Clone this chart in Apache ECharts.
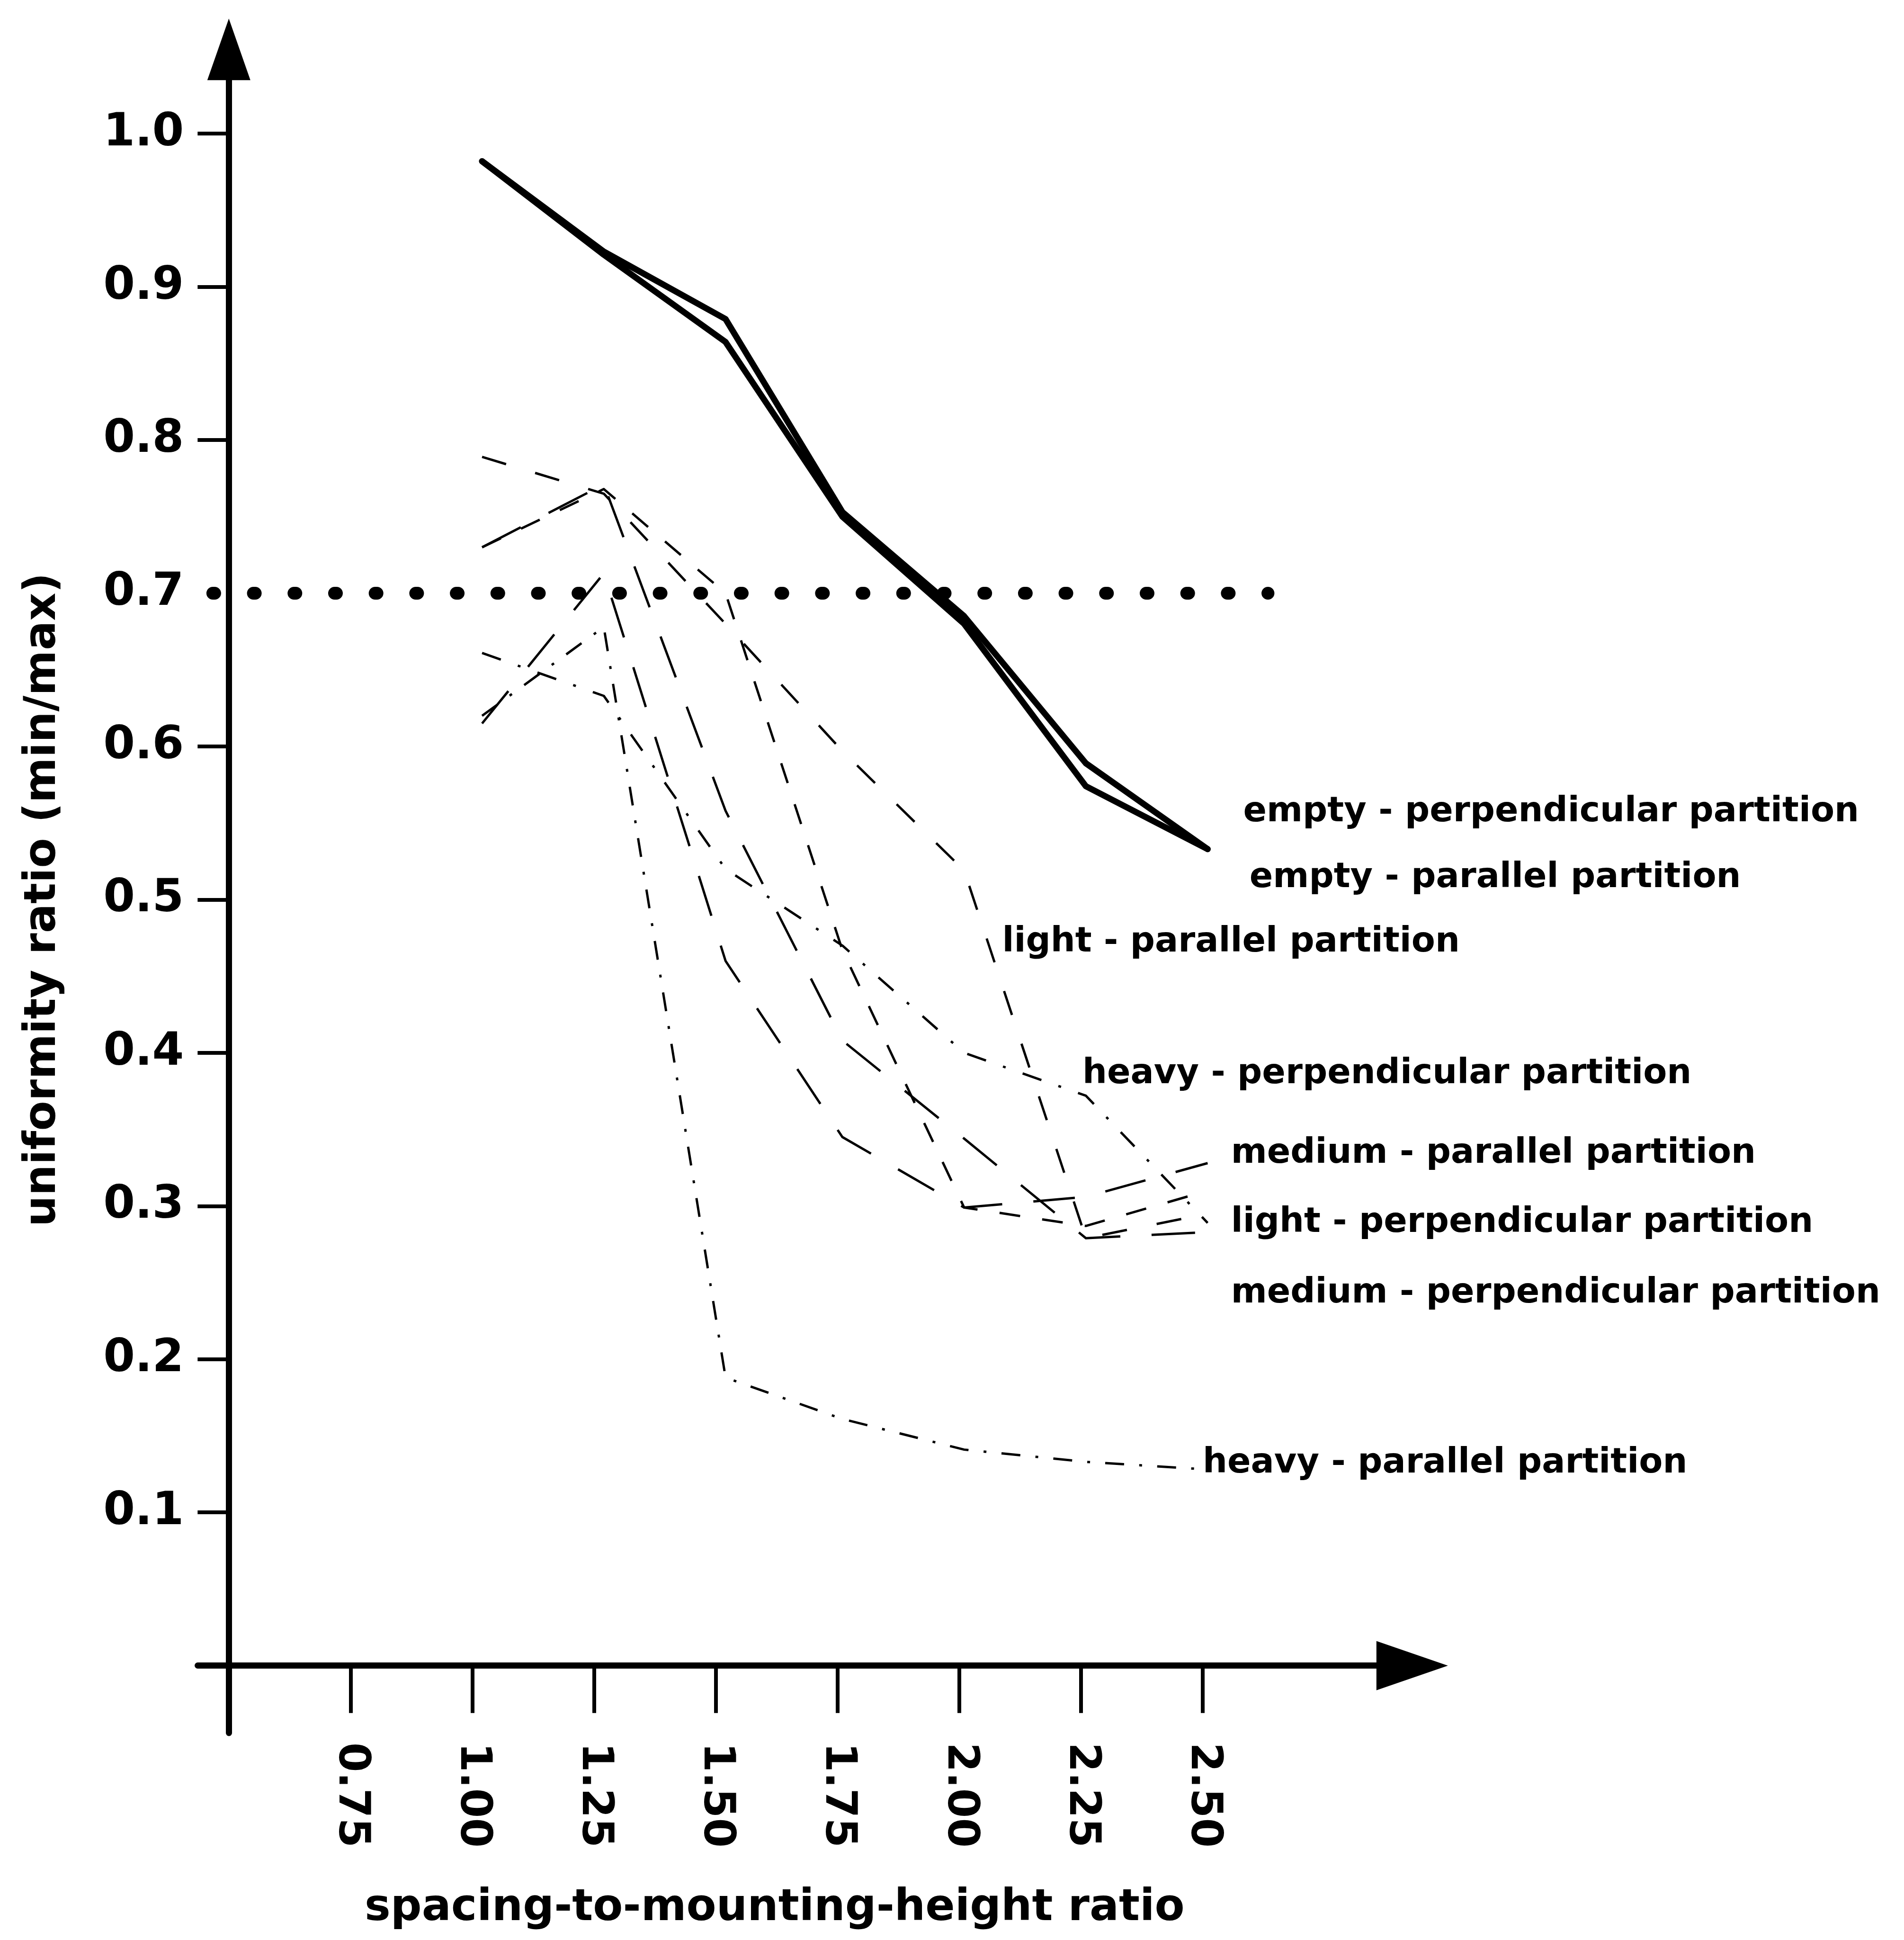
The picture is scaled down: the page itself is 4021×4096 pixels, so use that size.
<!DOCTYPE html>
<html>
<head>
<meta charset="utf-8">
<script src="https://cdn.jsdelivr.net/npm/echarts@6.0.0/dist/echarts.min.js"></script>
<style>
  html, body { margin: 0; padding: 0; background: #fff; }
  #chart { width: 4021px; height: 4096px; }
</style>
</head>
<body>
<div id="chart"></div>
<script>
// spacing-to-mounting-height ratio at the drawn vertices
const spacing = [1.02, 1.27, 1.52, 1.76, 2.01, 2.26, 2.51];

// uniformity ratio (min/max) per room condition
const emptyPerp  = [0.982, 0.923, 0.879, 0.753, 0.685, 0.589, 0.533];
const emptyPar   = [0.982, 0.921, 0.864, 0.750, 0.680, 0.574, 0.533];
const lightPar   = [0.789, 0.765, 0.680, 0.597, 0.519, 0.279, 0.295];
const lightPerp  = [0.730, 0.768, 0.700, 0.467, 0.299, 0.287, 0.310];
const mediumPar  = [0.615, 0.713, 0.460, 0.345, 0.299, 0.306, 0.328];
const mediumPerp = [0.730, 0.771, 0.558, 0.408, 0.344, 0.279, 0.283];
const heavyPerp  = [0.661, 0.633, 0.520, 0.470, 0.400, 0.372, 0.289];
const heavyPar   = [0.620, 0.678, 0.188, 0.161, 0.141, 0.133, 0.128];

const xTicks  = [0.75, 1.0, 1.25, 1.5, 1.75, 2.0, 2.25, 2.5];
const yTicks  = [0.1, 0.2, 0.3, 0.4, 0.5, 0.6, 0.8, 0.9, 1.0];
const yLabels = [0.1, 0.2, 0.3, 0.4, 0.5, 0.6, 0.7, 0.8, 0.9, 1.0];

// dotted 0.7 limit
const limitValue = 0.7;
const limitSpan = [0.467, 2.634];

// curve names written next to the curves
const noteNames = [
  'empty - perpendicular partition',
  'empty - parallel partition',
  'light - parallel partition',
  'heavy - perpendicular partition',
  'medium - parallel partition',
  'light - perpendicular partition',
  'medium - perpendicular partition',
  'heavy - parallel partition'
];
const noteX = [2.583, 2.596, 2.088, 2.253, 2.558, 2.558, 2.558, 2.50];
const noteY = [0.557, 0.514, 0.472, 0.386, 0.334, 0.289, 0.243, 0.132];

const font = 'DejaVu Sans';

function curve(name, values, width, dash, cap) {
  return {
    name: name,
    type: 'line',
    data: spacing.map((x, i) => [x, values[i]]),
    symbol: 'none',
    silent: true,
    lineStyle: { color: '#000', width: width, type: dash, cap: cap || 'butt', join: 'round' }
  };
}

const chart = echarts.init(document.getElementById('chart'));

const option = {
  animation: false,
  backgroundColor: '#fff',
  grid: {
    left: 417.5, top: 104.3, width: 2564.8, height: 3554.7,
    containLabel: false,
    outerBoundsMode: 'none'
  },
  xAxis: {
    type: 'value',
    min: 0.436,
    max: 2.93,
    splitLine: { show: false },
    axisLine: {
      show: true,
      onZero: true,
      lineStyle: { color: '#000', width: 13 },
      symbol: ['none', 'triangle'],
      symbolSize: [104, 151]
    },
    axisTick: {
      show: true,
      length: 100,
      customValues: xTicks,
      lineStyle: { color: '#000', width: 8 }
    },
    axisLabel: {
      show: true,
      customValues: xTicks,
      rotate: -90,
      margin: 20,
      formatter: v => v.toFixed(2),
      fontFamily: font, fontWeight: 'bold', fontSize: 90, color: '#000'
    },
    name: 'spacing-to-mounting-height ratio',
    nameLocation: 'middle',
    nameGap: 325,
    nameMoveOverlap: false,
    nameTextStyle: {
      fontFamily: font, fontWeight: 'bold', fontSize: 92, color: '#000',
      padding: [0, 128, 0, 0]
    }
  },
  yAxis: {
    type: 'value',
    min: -0.044,
    max: 1.055,
    offset: -65.8,
    splitLine: { show: false },
    axisLine: {
      show: true,
      onZero: false,
      lineStyle: { color: '#000', width: 13 },
      symbol: ['none', 'triangle'],
      symbolSize: [91, 130]
    },
    axisTick: {
      show: true,
      length: 66,
      customValues: yTicks,
      lineStyle: { color: '#000', width: 8 }
    },
    axisLabel: {
      show: true,
      customValues: yLabels,
      margin: 95,
      formatter: v => v.toFixed(1),
      fontFamily: font, fontWeight: 'bold', fontSize: 96, color: '#000'
    },
    name: 'uniformity ratio (min/max)',
    nameLocation: 'middle',
    nameGap: 345,
    nameMoveOverlap: false,
    nameTextStyle: {
      fontFamily: font, fontWeight: 'bold', fontSize: 92, color: '#000',
      padding: [0, 36, 0, 0]
    }
  },
  series: [
    curve('empty - perpendicular partition', emptyPerp, 13, 'solid', 'round'),
    curve('empty - parallel partition', emptyPar, 13, 'solid', 'round'),
    curve('light - parallel partition', lightPar, 5, [53, 64]),
    curve('light - perpendicular partition', lightPerp, 5, [44, 47]),
    curve('medium - parallel partition', mediumPar, 5, [88, 66]),
    curve('medium - perpendicular partition', mediumPerp, 5, [92, 66]),
    curve('heavy - perpendicular partition', heavyPerp, 5, [42, 38, 6, 38]),
    curve('heavy - parallel partition', heavyPar, 5, [40, 32, 6, 32]),
    {
      name: 'limit',
      type: 'line',
      data: limitSpan.map(x => [x, limitValue]),
      symbol: 'none',
      silent: true,
      clip: false,
      lineStyle: { color: '#000', width: 27, type: [4, 81.7], cap: 'round' }
    },
    {
      name: 'notes',
      type: 'scatter',
      symbolSize: 0,
      silent: true,
      itemStyle: { color: '#000' },
      data: noteNames.map((n, i) => ({ name: n, value: [noteX[i], noteY[i]] })),
      label: {
        show: true,
        position: 'right',
        distance: 0,
        formatter: '{t|{b}}',
        rich: {
          t: { fontFamily: font, fontWeight: 'bold', fontSize: 73, color: '#000', opacity: 1 }
        }
      }
    }
  ]
};

chart.setOption(option);
window.addEventListener('resize', function () {
  chart.resize();
});
</script>
</body>
</html>
